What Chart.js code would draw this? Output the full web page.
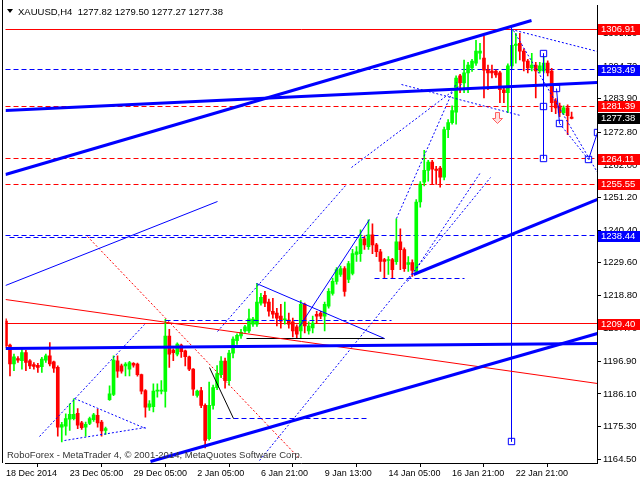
<!DOCTYPE html>
<html><head><meta charset="utf-8">
<script src="https://cdn.jsdelivr.net/npm/chart.js@4.4.1/dist/chart.umd.min.js"></script>
<style>html,body{margin:0;padding:0;background:#fff;}canvas{display:block;}</style>
</head><body>
<canvas id="c" width="640" height="480"></canvas>
<script>
// ---------- DATA (XAUUSD H4, bar index 0..142) ----------
const opens = [1210.2,1202.3,1196.0,1197.8,1197.1,1199.8,1197.1,1195.8,1195.6,1195.1,1197.3,1198.7,1196.7,1194.9,1175.1,1175.4,1177.7,1177.9,1179.7,1176.5,1175.1,1176.3,1177.6,1179.0,1176.8,1174.0,1184.2,1185.9,1197.1,1195.4,1195.4,1194.3,1196.2,1196.0,1192.5,1187.2,1181.7,1181.9,1187.0,1187.0,1186.9,1205.3,1200.6,1199.3,1202.3,1200.4,1198.4,1194.3,1185.6,1187.2,1182.3,1171.3,1182.3,1188.2,1192.5,1197.0,1190.5,1199.6,1203.7,1205.3,1207.0,1207.0,1209.2,1209.2,1216.2,1218.8,1216.5,1213.5,1212.9,1211.9,1210.6,1210.6,1210.0,1208.3,1207.0,1215.8,1207.0,1208.0,1212.5,1212.9,1211.9,1215.2,1219.4,1223.4,1225.7,1227.6,1224.0,1226.0,1232.3,1232.6,1237.5,1234.9,1238.8,1235.5,1233.2,1230.6,1230.3,1230.6,1229.9,1236.5,1233.9,1229.0,1229.6,1226.7,1249.7,1256.3,1260.2,1262.9,1260.6,1260.9,1257.9,1273.7,1276.0,1279.5,1291.5,1289.2,1292.5,1294.1,1295.7,1299.0,1297.4,1293.4,1293.1,1293.1,1292.5,1286.9,1285.9,1294.8,1301.6,1302.3,1299.7,1296.4,1294.1,1295.1,1293.1,1293.1,1295.7,1293.1,1283.2,1281.6,1279.3,1280.9,1277.82];
const highs = [1211.0,1202.6,1199.3,1198.5,1201.1,1200.5,1197.5,1196.5,1196.2,1198.2,1199.3,1203.1,1197.0,1195.4,1176.7,1179.5,1182.8,1184.5,1181.2,1177.0,1176.8,1178.4,1179.7,1181.0,1177.3,1175.1,1188.8,1198.7,1198.7,1196.0,1196.5,1196.9,1196.5,1196.3,1192.7,1187.5,1183.9,1189.4,1189.4,1190.5,1210.8,1207.5,1201.0,1203.0,1202.6,1200.6,1198.6,1194.5,1187.4,1188.3,1182.8,1190.0,1189.0,1195.5,1198.5,1198.0,1200.5,1205.0,1206.0,1207.5,1208.8,1214.2,1211.5,1222.7,1219.4,1220.1,1217.5,1217.8,1214.5,1215.8,1216.5,1212.9,1211.2,1209.0,1217.0,1216.2,1210.0,1211.9,1213.5,1213.5,1216.5,1221.0,1224.5,1228.0,1228.5,1228.3,1230.0,1234.0,1234.9,1240.5,1238.5,1243.8,1242.5,1236.0,1234.0,1231.0,1231.6,1231.0,1244.1,1240.8,1234.5,1231.6,1230.5,1250.5,1256.5,1266.8,1263.5,1263.5,1261.5,1261.5,1274.5,1277.0,1281.6,1291.5,1292.0,1296.7,1296.0,1297.0,1303.3,1302.3,1304.6,1295.1,1295.1,1293.5,1293.0,1287.5,1295.5,1306.9,1305.6,1305.6,1300.5,1297.0,1299.0,1296.0,1296.0,1299.0,1296.5,1294.0,1284.0,1282.5,1281.6,1281.9,1279.50];
const lows = [1201.5,1192.1,1193.8,1196.5,1194.3,1193.8,1194.5,1194.3,1193.2,1193.2,1196.5,1195.4,1193.2,1172.1,1170.2,1172.4,1174.0,1177.5,1174.6,1174.3,1172.1,1175.9,1177.0,1175.1,1172.1,1172.7,1183.9,1185.5,1191.6,1193.0,1192.1,1192.1,1195.0,1192.0,1186.1,1178.4,1180.6,1180.1,1185.0,1186.1,1181.7,1194.9,1197.1,1198.7,1198.2,1195.4,1193.8,1185.6,1185.0,1181.5,1168.2,1170.8,1181.0,1187.5,1191.5,1188.0,1189.0,1198.0,1202.5,1204.5,1206.5,1206.4,1208.5,1208.5,1215.5,1215.0,1211.9,1211.2,1208.6,1207.9,1209.2,1207.9,1205.0,1204.6,1204.6,1206.3,1205.9,1206.3,1209.6,1211.0,1207.0,1214.5,1218.8,1222.5,1225.0,1218.5,1223.0,1225.5,1230.0,1230.0,1234.0,1234.0,1232.6,1231.6,1226.7,1224.4,1225.7,1224.4,1229.0,1227.3,1226.7,1226.7,1225.0,1225.7,1248.0,1255.0,1256.6,1255.5,1255.5,1254.6,1257.0,1271.0,1275.5,1275.5,1285.9,1285.9,1285.9,1293.0,1295.0,1297.0,1284.2,1286.9,1290.8,1291.0,1282.6,1282.6,1279.3,1294.0,1295.7,1296.8,1293.1,1292.5,1293.1,1284.2,1292.5,1292.5,1291.5,1279.6,1279.0,1278.0,1278.6,1272.0,1277.27];
const closes = [1202.0,1196.0,1198.4,1197.3,1199.8,1196.5,1195.4,1195.2,1194.9,1197.6,1198.7,1196.0,1194.6,1175.1,1175.9,1177.9,1179.3,1179.3,1175.7,1174.9,1176.0,1177.9,1179.2,1176.5,1173.8,1174.6,1186.1,1197.3,1193.6,1193.6,1196.0,1196.5,1195.6,1192.5,1187.0,1181.7,1182.8,1187.0,1187.4,1187.4,1205.3,1199.3,1199.8,1202.6,1200.1,1198.4,1194.3,1187.7,1187.0,1182.3,1170.7,1182.3,1188.2,1192.8,1197.0,1190.5,1199.6,1204.3,1205.5,1206.5,1208.3,1211.0,1210.9,1216.5,1218.1,1216.2,1213.5,1212.5,1211.2,1210.2,1211.0,1209.2,1207.0,1205.9,1215.8,1208.6,1208.6,1209.6,1211.9,1211.9,1215.8,1220.1,1223.4,1227.3,1227.6,1220.1,1229.3,1232.6,1233.2,1237.5,1235.5,1238.8,1235.5,1233.2,1230.0,1230.0,1230.6,1227.3,1236.5,1233.9,1227.6,1229.6,1227.0,1249.7,1255.6,1260.2,1262.9,1260.6,1260.2,1257.9,1273.7,1276.0,1280.0,1290.8,1289.2,1292.5,1295.1,1296.4,1299.7,1299.7,1293.4,1292.5,1292.5,1291.8,1286.9,1285.9,1294.8,1301.6,1302.0,1299.7,1296.4,1294.1,1295.1,1293.1,1294.8,1295.7,1292.5,1282.6,1280.9,1279.3,1280.9,1278.3,1277.38];

const timeLabels = ['18 Dec 2014','23 Dec 05:00','29 Dec 05:00','2 Jan 05:00','6 Jan 21:00','9 Jan 13:00','14 Jan 05:00','16 Jan 21:00','22 Jan 21:00'];
const timeLabelBars = [0,16,32,48,64,80,96,112,128];
const priceTicks = [1164.50,1175.30,1186.10,1196.90,1207.70,1218.80,1229.60,1240.40,1251.20,1262.00,1272.80,1283.90,1294.70,1305.50];

// horizontal levels (price) across the whole chart
const levelPrices = [1306.91,1293.49,1281.39,1264.11,1255.55,1238.44,1209.40];

// drawn objects: [barIndex, price] end points
const chanUpper  = [[0,1258.9],[132,1309.9]];
const midLine    = [[0,1279.96],[148.5,1289.43]];
const baseLine   = [[0,1201.0],[148.5,1202.67]];
const chanLower  = [[36.25,1163.76],[148.5,1206.02]];
const riseLine   = [[102.2,1225.79],[148.5,1250.59]];
const thinBlue   = [[0,1221.97],[53,1249.93]];
const redDecl    = [[0,1217.37],[148.5,1189.41]];
const wedgeTop   = [[63,1222.83],[95.08,1204.54]];
const wedgeRise  = [[73.75,1208.59],[91.25,1243.78]];
const blackDiag  = [[51.08,1194.87],[57.18,1177.90]];
const blackFlat  = [[60.5,1204.54],[95,1204.54]];
const dash1238b  = [[1,1237.86],[90,1237.86]];
const dash1210   = [[40,1210.46],[96.75,1210.46]];
const dash1178   = [[53,1177.90],[91.25,1177.90]];
const dash1224   = [[92.5,1224.28],[115,1224.28]];
const redDot     = [[20.5,1238.19],[73.5,1165.17]];
const dotA       = [[8.43,1171.85],[34.68,1209.18]];
const triTop     = [[17.18,1184.48],[35.08,1174.61]];
const triBot     = [[14.68,1170.76],[35.08,1174.80]];
const dotB       = [[53,1206.94],[85.5,1255.61]];
const dotC       = [[98,1244.21],[113,1289.17]];
const dotD       = [[100.9,1223.39],[119.25,1259.57]];
const dotH       = [[63.75,1164.19],[121.75,1257.9]];
const dotF       = [[86.75,1261.0],[114.25,1288.5]];
const dotG       = [[99.25,1288.5],[129.25,1278.2]];
const fanH1      = [[127,1306.93],[148.5,1299.69]];
const fanH2      = [[127.5,1306.6],[148.5,1259.57]];
const vLine1     = [[127,1307.59],[127,1170.44]];
const vLine2     = [[135,1299.04],[135,1264.17]];
const pathA      = [[138.18,1287.19],[139.08,1275.68]];
const pathDot    = [[139.08,1275.68],[146.18,1263.94]];
const pathUp     = [[146.18,1263.94],[148.43,1272.72]];
const squares    = [[127,1170.44],[135,1299.04],[135,1281.51],[135,1264.17],[138.18,1287.19],[139.08,1275.68],[146.18,1263.94],[148.43,1272.72]];
const arrowMark  = [123.5,1277.5];

// ---------- STYLES ----------
const RED='#ff0000', BLUE='#0000ff', GREEN='#00ff00', BLACK='#000000';
const DASH=[5,3], DOT=[2,2];
const FONT='"Liberation Sans", Arial, sans-serif';
const levelStyles = [
  {c:RED,d:[]},{c:BLUE,d:DASH},{c:RED,d:DASH},{c:RED,d:DASH},{c:RED,d:DASH},{c:BLUE,d:DASH},{c:RED,d:[]}
];

function seg(pts,color,width,dash){
  return {type:'line',data:pts.map(p=>({x:p[0],y:p[1]})),borderColor:color,borderWidth:width,
    borderDash:dash||[],pointRadius:0,pointHoverRadius:0,fill:false,tension:0,order:0,borderCapStyle:'butt'};
}
const n = closes.length;
const isUp = closes.map((c,i)=>c>=opens[i]);
const candleColors = isUp.map(u=>u?GREEN:RED);

const datasets = [];
[[chanUpper,BLUE,3,[]],[midLine,BLUE,3,[]],[baseLine,BLUE,3,[]],[chanLower,BLUE,3,[]],[riseLine,BLUE,3,[]],
 [thinBlue,BLUE,1,[]],[redDecl,RED,1,[]],[wedgeTop,BLUE,1,[]],[wedgeRise,BLUE,1,[]],
 [blackDiag,BLACK,1,[]],[blackFlat,BLACK,1,[]],
 [dash1238b,BLUE,1,DASH],[dash1210,BLUE,1,DASH],[dash1178,BLUE,1,DASH],[dash1224,BLUE,1,DASH],
 [redDot,RED,1,DOT],[dotA,BLUE,1,DOT],[triTop,BLUE,1,DOT],[triBot,BLUE,1,DOT],[dotB,BLUE,1,DOT],
 [dotC,BLUE,1,DOT],[dotD,BLUE,1,DOT],[dotH,BLUE,1,DOT],[dotF,BLUE,1,DOT],[dotG,BLUE,1,DOT],
 [fanH1,BLUE,1,DOT],[fanH2,BLUE,1,DOT],
 [vLine1,BLUE,1,[]],[vLine2,BLUE,1,[]],[pathA,BLUE,1,[]],[pathDot,BLUE,1,DOT],[pathUp,BLUE,1,[]]
].forEach(a=>datasets.push(seg(a[0],a[1],a[2],a[3])));
datasets.push({type:'line',showLine:false,data:squares.map(p=>({x:p[0],y:p[1]})),pointStyle:'rect',
  pointRadius:4.5,pointBorderColor:BLUE,pointBackgroundColor:'#ffffff',pointBorderWidth:1,order:0});
// candles
datasets.push({type:'bar',data:closes.map((c,i)=>({x:i,y:[lows[i],highs[i]]})),backgroundColor:candleColors,
  barThickness:1,grouped:false,borderWidth:0,order:6});
datasets.push({type:'bar',data:closes.map((c,i)=>({x:i,y:[Math.min(opens[i],c),Math.max(opens[i],c)]})),
  backgroundColor:candleColors,barThickness:3,minBarLength:1,grouped:false,borderWidth:0,order:5});

const snap = v => Math.round(v - 0.5) + 0.5;
const overlay = {
  id:'overlay',
  beforeDatasetsDraw(chart){
    chart.data.datasets.forEach((ds,i)=>{
      if(ds.type!=='line') return;
      chart.getDatasetMeta(i).data.forEach(pt=>{pt.x=snap(pt.x);pt.y=snap(pt.y);});
    });
    // horizontal price levels, placed through the y scale
    const ctx=chart.ctx, a=chart.chartArea, ys=chart.scales.y;
    ctx.save();
    ctx.lineWidth=1;
    levelPrices.forEach((p,k)=>{
      const y=snap(ys.getPixelForValue(p));
      ctx.strokeStyle=levelStyles[k].c; ctx.setLineDash(levelStyles[k].d);
      ctx.beginPath(); ctx.moveTo(a.left,y); ctx.lineTo(a.right,y); ctx.stroke();
    });
    ctx.restore();
  },
  afterDraw(chart){
    const ctx=chart.ctx, a=chart.chartArea, ys=chart.scales.y, xs=chart.scales.x;
    ctx.save();
    // left frame
    ctx.strokeStyle=BLACK; ctx.lineWidth=1;
    ctx.beginPath(); ctx.moveTo(2.5,0); ctx.lineTo(2.5,a.bottom); ctx.stroke();
    // arrow icon
    const ax=snap(xs.getPixelForValue(arrowMark[0])), ay=snap(ys.getPixelForValue(arrowMark[1]));
    ctx.strokeStyle='#ff6060'; ctx.fillStyle='#ffe0e0';
    ctx.beginPath(); ctx.moveTo(ax-2,ay-6); ctx.lineTo(ax+2,ay-6); ctx.lineTo(ax+2,ay); ctx.lineTo(ax+5,ay);
    ctx.lineTo(ax,ay+5); ctx.lineTo(ax-5,ay); ctx.lineTo(ax-2,ay); ctx.closePath(); ctx.fill(); ctx.stroke();
    // title
    ctx.fillStyle=BLACK;
    ctx.beginPath(); ctx.moveTo(7,9); ctx.lineTo(13,9); ctx.lineTo(10,13); ctx.closePath(); ctx.fill();
    ctx.font='9.5px '+FONT; ctx.textBaseline='alphabetic'; ctx.textAlign='left';
    ctx.fillText('XAUUSD,H4  '+opens[n-1].toFixed(2)+' '+highs[n-1].toFixed(2)+' '+lows[n-1].toFixed(2)+' '+closes[n-1].toFixed(2),18,15);
    // copyright
    ctx.fillStyle='#333333'; ctx.font='9.5px '+FONT;
    ctx.fillText('RoboForex - MetaTrader 4, \u00A9 2001-2014, MetaQuotes Software Corp.',7,458);
    // price labels
    const tags = levelPrices.map((p,k)=>({p,c:levelStyles[k].c}));
    tags.push({p:closes[n-1],c:BLACK});
    ctx.font='9.5px '+FONT; ctx.textBaseline='middle';
    tags.forEach(t=>{
      const y=Math.round(ys.getPixelForValue(t.p));
      ctx.fillStyle=t.c; ctx.fillRect(598,y-5,42,11);
      ctx.fillStyle='#ffffff'; ctx.fillText(t.p.toFixed(2),601,y+0.5);
    });
    ctx.restore();
  }
};

new Chart(document.getElementById('c'),{
  type:'line',
  data:{datasets},
  options:{
    responsive:false,animation:false,devicePixelRatio:1,events:[],
    layout:{padding:{left:3,top:2,right:0,bottom:0}},
    plugins:{legend:{display:false},tooltip:{enabled:false}},
    scales:{
      x:{type:'linear',position:'bottom',min:-0.125,max:148.375,offset:false,
        grid:{drawOnChartArea:false,drawTicks:true,tickLength:4,color:BLACK},
        border:{display:true,color:BLACK},
        afterBuildTicks:s=>{s.ticks=timeLabelBars.map(v=>({value:v}));},
        afterFit:s=>{s.height=17;s.paddingLeft=0;s.paddingRight=0;},
        ticks:{autoSkip:false,maxRotation:0,align:'start',padding:1,color:BLACK,font:{family:FONT,size:9},
          callback:(v,i)=>timeLabels[i]}},
      y:{type:'linear',position:'right',min:1163.20,max:1314.82,
        grid:{drawOnChartArea:false,drawTicks:true,tickLength:4,color:BLACK},
        border:{display:true,color:BLACK},
        afterBuildTicks:s=>{s.ticks=priceTicks.map(v=>({value:v}));},
        afterFit:s=>{s.width=43;s.paddingTop=0;s.paddingBottom=0;},
        ticks:{padding:2,color:BLACK,font:{family:FONT,size:9.5},callback:v=>Number(v).toFixed(2)}}
    }
  },
  plugins:[overlay]
});
</script>
</body></html>
